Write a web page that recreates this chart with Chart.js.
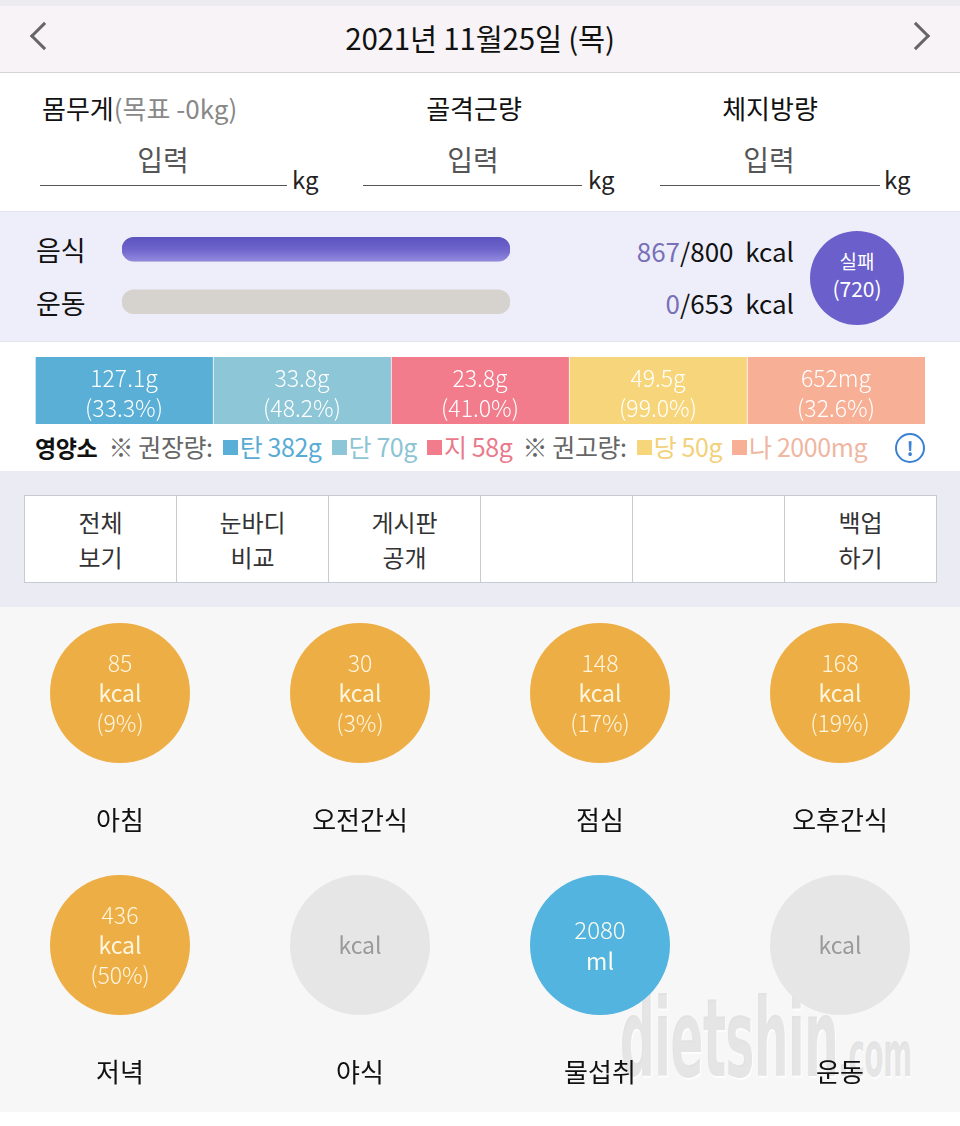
<!DOCTYPE html>
<html>
<head>
<meta charset="utf-8">
<script src="https://cdn.jsdelivr.net/npm/chart.js@4.4.1/dist/chart.umd.min.js"></script>
<style>
  body { margin:0; width:960px; height:1126px; position:relative; overflow:hidden; background:#fff;
         font-family:"Noto Sans CJK KR","Noto Sans",sans-serif; color:#111; }
  .a { position:absolute; }
  .topstrip { left:0; top:0; width:960px; height:6px; background:#ebebf0; }
  .header { left:0; top:6px; width:960px; height:66px; background:#f7f3f7; border-bottom:1px solid #d3d3d8; }
  .date { left:0; top:6px; width:960px; height:66px; line-height:62px; text-align:center; font-size:29.5px; letter-spacing:-0.2px; }
  .chev { width:17px; height:17px; border-left:3px solid #666; border-bottom:3px solid #666; top:26px; }
  .lbl { font-size:26px; top:89px; }
  .inp { font-size:28px; color:#555; top:139px; width:120px; text-align:center; }
  .uline { height:1px; background:#555; top:185px; }
  .kg { font-size:24px; top:161px; color:#222; }
  .lav { left:0; top:211px; width:960px; height:129px; background:#eeeefa; border-top:1px solid #e4e4ee; border-bottom:1px solid #e4e4ee; }
  .rowlbl { font-size:27px; left:36px; }
  .kcal { font-size:26px; right:166px; text-align:right; }
  .kcal span { color:#7870b8; }
  .badge { left:810px; top:231px; width:94px; height:94px; border-radius:50%; background:#6a5fcb; color:#fff; text-align:center; }
  .legend { left:35px; top:428px; font-size:25px; white-space:nowrap; letter-spacing:-0.4px; color:#666; }
  .legend b { color:#111; font-weight:700; font-size:23px; margin-right:6px; }
  .legend .gap { display:inline-block; width:10px; }
  .sq { display:inline-block; width:15px; height:15px; margin:0 2px 0 0; vertical-align:2px; }
  .info { left:895px; top:433px; width:26px; height:26px; border:2px solid #3b80d2; border-radius:50%; color:#3b80d2; font-size:19px; line-height:26px; text-align:center; font-weight:700; }
  .graysec { left:0; top:471px; width:960px; height:136px; background:#ebebf3; }
  table.menu { position:absolute; left:24px; top:495px; width:913px; height:88px; border-collapse:collapse; background:#fff; table-layout:fixed; }
  table.menu td { border:1.5px solid #c8cad2; text-align:center; font-size:24px; line-height:35px; color:#333; padding:0; }
  .bottom { left:0; top:607px; width:960px; height:505px; background:#f7f7f7; }
  .wm { left:620px; top:985px; font-family:"DejaVu Sans Condensed","DejaVu Sans",sans-serif; font-weight:bold; font-size:108px; color:rgba(200,200,200,0.45);
        transform:scaleX(0.5); transform-origin:left top; letter-spacing:-1px; white-space:nowrap; line-height:1; text-shadow:2px 2px 0 rgba(255,255,255,0.7); }
  .wm small { font-size:62px; }
</style>
</head>
<body>
<script>
// ---- data ----
const dateLabel = '2021년 11월25일 (목)';
const bodyLabels = ['몸무게', '골격근량', '체지방량'];
const goalLabel = '(목표 -0kg)';
const calRows = ['음식', '운동'];
const calValues = [867, 0];
const calTargets = [800, 653];
const resultLabel = '실패';
const resultValue = 720;
const nutrients = ['탄', '단', '지', '당', '나'];
const nutrientAmounts = ['127.1g', '33.8g', '23.8g', '49.5g', '652mg'];
const nutrientPercents = [33.3, 48.2, 41.0, 99.0, 32.6];
const nutrientRefs = ['382g', '70g', '58g', '50g', '2000mg'];
const nutrientFill = [1, 1, 1, 1, 1];
const menuItems = [['전체', '보기'], ['눈바디', '비교'], ['게시판', '공개'], [], [], ['백업', '하기']];
const meals = ['아침', '오전간식', '점심', '오후간식', '저녁', '야식', '물섭취', '운동'];
const mealValues = [85, 30, 148, 168, 436, null, 2080, null];
const mealUnits = ['kcal', 'kcal', 'kcal', 'kcal', 'kcal', 'kcal', 'ml', 'kcal'];
const mealPercents = [9, 3, 17, 19, 50, null, null, null];

const nutrientColors = ['#5aafd6', '#8dc6d7', '#f27b8c', '#f7d67b', '#f7b096'];
const legendColors = ['#58acd4', '#8cc4d4', '#ea7a8b', '#f2d17a', '#efb6a2'];
</script>

<div class="a topstrip"></div>
<div class="a header"></div>
<div class="a date" id="date"></div>
<div class="a chev" style="left:34px;transform:rotate(45deg);"></div>
<div class="a chev" style="left:906px;transform:rotate(-135deg);"></div>

<div class="a lbl" style="left:42px;"><span id="bl0"></span><span style="color:#888" id="goal"></span></div>
<div class="a lbl" style="left:374px;width:200px;text-align:center;" id="bl1"></div>
<div class="a lbl" style="left:670px;width:200px;text-align:center;" id="bl2"></div>
<div class="a inp" style="left:103px;">입력</div>
<div class="a inp" style="left:413px;">입력</div>
<div class="a inp" style="left:709px;">입력</div>
<div class="a uline" style="left:40px;width:247px;"></div>
<div class="a uline" style="left:363px;width:219px;"></div>
<div class="a uline" style="left:660px;width:220px;"></div>
<div class="a kg" style="left:292px;">kg</div>
<div class="a kg" style="left:588px;">kg</div>
<div class="a kg" style="left:884px;">kg</div>

<div class="a lav"></div>
<div class="a rowlbl" style="top:230px;" id="r0"></div>
<div class="a rowlbl" style="top:283px;" id="r1"></div>
<canvas class="a" id="calChart" width="388" height="105" style="left:122px;top:223px;"></canvas>
<div class="a kcal" style="top:232px;" id="k0"></div>
<div class="a kcal" style="top:284px;" id="k1"></div>
<div class="a badge"><div style="font-size:19px;margin-top:17px;line-height:26px;" id="badgeT"></div><div style="font-size:21px;line-height:28px;" id="badgeV"></div></div>

<canvas class="a" id="nutriChart" width="890" height="67" style="left:35px;top:357px;"></canvas>
<div class="a legend" id="legend"></div>
<div class="a info">!</div>

<div class="a graysec"></div>
<table class="menu" id="menu"></table>

<div class="a bottom"></div>
<div class="a wm">dietshin<small>.com</small></div>
<canvas class="a" id="mealChart" width="960" height="505" style="left:0;top:607px;"></canvas>

<script>
document.getElementById('date').textContent = dateLabel;
document.getElementById('bl0').textContent = bodyLabels[0];
document.getElementById('goal').textContent = goalLabel;
document.getElementById('bl1').textContent = bodyLabels[1];
document.getElementById('bl2').textContent = bodyLabels[2];
calRows.forEach((r, i) => {
  document.getElementById('r' + i).textContent = r;
  document.getElementById('k' + i).innerHTML = '<span>' + calValues[i] + '</span>/' + calTargets[i] + '&nbsp; kcal';
});
document.getElementById('badgeT').textContent = resultLabel;
document.getElementById('badgeV').textContent = '(' + resultValue + ')';

let lg = '<b>영양소</b> ※ 권장량:<span class="gap"></span>';
nutrients.forEach((n, i) => {
  if (i === 3) lg += '<span class="gap"></span>※ 권고량:<span class="gap"></span>';
  else if (i > 0) lg += '<span class="gap"></span>';
  lg += '<span class="sq" style="background:' + nutrientColors[i] + '"></span><span style="color:' + legendColors[i] + '">' + n + ' ' + nutrientRefs[i] + '</span>';
});
document.getElementById('legend').innerHTML = lg;

document.getElementById('menu').innerHTML = '<tr>' + menuItems.map(m => '<td>' + m.join('<br>') + '</td>').join('') + '</tr>';

const baseOpts = {
  responsive: false,
  animation: false,
  events: [],
  plugins: { legend: { display: false }, tooltip: { enabled: false } }
};

// calorie progress bars (share of target, capped at full)
new Chart(document.getElementById('calChart'), {
  type: 'bar',
  data: {
    labels: calRows,
    datasets: [
      {
        data: calValues.map((v, i) => v > 0 ? Math.min(v / calTargets[i], 1) * 100 : null),
        backgroundColor(c) {
          const ch = c.chart, ys = ch.scales.y;
          if (!ys || !ch.chartArea) return '#6c62c9';
          const cy = ys.getPixelForValue(c.dataIndex);
          const g = ch.ctx.createLinearGradient(0, cy - 12, 0, cy + 12);
          g.addColorStop(0, '#5d53bf');
          g.addColorStop(0.5, '#6e64cb');
          g.addColorStop(1, '#918ade');
          return g;
        }
      },
      { data: calTargets.map(() => 100), backgroundColor: '#d6d2ce' }
    ]
  },
  options: Object.assign({}, baseOpts, {
    indexAxis: 'y',
    layout: { padding: 0, autoPadding: false },
    datasets: { bar: { grouped: false, barThickness: 24, borderRadius: 12, borderSkipped: false } },
    scales: { x: { display: false, min: 0, max: 100 }, y: { display: false } }
  })
});

// nutrient blocks
new Chart(document.getElementById('nutriChart'), {
  type: 'bar',
  data: {
    labels: nutrients,
    datasets: [{
      data: nutrientFill,
      backgroundColor: nutrientColors,
      borderColor: '#ffffff',
      borderWidth: { left: 1, right: 0, top: 0, bottom: 0 },
      borderSkipped: false,
      barPercentage: 1,
      categoryPercentage: 1
    }]
  },
  options: Object.assign({}, baseOpts, {
    layout: { padding: 0, autoPadding: false },
    scales: { x: { display: false }, y: { display: false, min: 0, max: 1 } }
  }),
  plugins: [{
    id: 'nutriText',
    afterDatasetsDraw(chart) {
      const ctx = chart.ctx;
      ctx.save();
      ctx.fillStyle = '#ffffff';
      ctx.textAlign = 'center';
      ctx.textBaseline = 'middle';
      ctx.font = '300 23px "Noto Sans CJK KR"';
      chart.getDatasetMeta(0).data.forEach((bar, i) => {
        ctx.fillText(nutrientAmounts[i], bar.x, 21);
        ctx.fillText('(' + nutrientPercents[i].toFixed(1) + '%)', bar.x, 51);
      });
      ctx.restore();
    }
  }]
});

// meal circles
new Chart(document.getElementById('mealChart'), {
  type: 'scatter',
  data: {
    datasets: [{
      data: meals.map((m, i) => ({ x: i % 4, y: Math.floor(i / 4) })),
      pointRadius: 70,
      pointHoverRadius: 70,
      borderWidth: 0,
      clip: false,
      backgroundColor: mealValues.map((v, i) => v === null ? '#e6e6e6' : (mealUnits[i] === 'ml' ? '#52b4df' : '#eeae46'))
    }]
  },
  options: Object.assign({}, baseOpts, {
    layout: { padding: 0, autoPadding: false },
    scales: {
      x: { display: false, min: -0.5, max: 3.5 },
      y: { display: false, reverse: true, min: -0.3413, max: 1.6627 }
    }
  }),
  plugins: [{
    id: 'mealText',
    afterDatasetsDraw(chart) {
      const ctx = chart.ctx;
      ctx.save();
      ctx.textAlign = 'center';
      ctx.textBaseline = 'middle';
      chart.getDatasetMeta(0).data.forEach((pt, i) => {
        const x = pt.x, y = pt.y;
        const v = mealValues[i];
        if (v === null) {
          ctx.fillStyle = '#9a9a9a';
          ctx.font = '23px "Noto Sans CJK KR"';
          ctx.fillText(mealUnits[i], x, y);
        } else if (mealPercents[i] === null) {
          ctx.fillStyle = '#fbfbf0';
          ctx.font = '300 24px "Noto Sans CJK KR"';
          ctx.fillText(String(v), x, y - 15);
          ctx.font = '23px "Noto Sans CJK KR"';
          ctx.fillText(mealUnits[i], x, y + 16);
        } else {
          ctx.fillStyle = '#fdf6df';
          ctx.font = '300 23px "Noto Sans CJK KR"';
          ctx.fillText(String(v), x, y - 30);
          ctx.font = '23px "Noto Sans CJK KR"';
          ctx.fillText(mealUnits[i], x, y);
          ctx.font = '300 23px "Noto Sans CJK KR"';
          ctx.fillText('(' + mealPercents[i] + '%)', x, y + 30);
        }
        ctx.fillStyle = '#111';
        ctx.font = '26px "Noto Sans CJK KR"';
        ctx.fillText(meals[i], x, y + 127);
      });
      ctx.restore();
    }
  }]
});
</script>
</body>
</html>
